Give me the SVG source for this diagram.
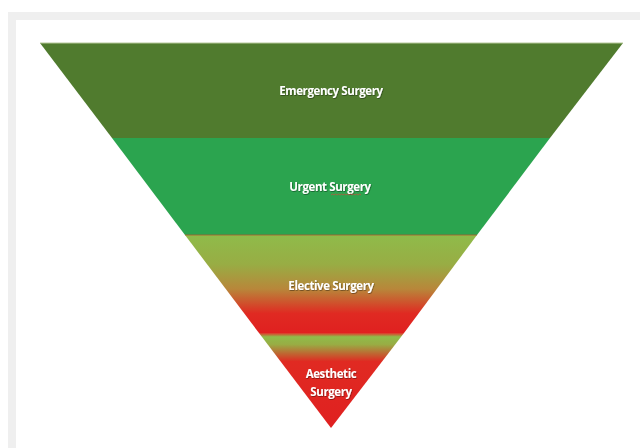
<svg xmlns="http://www.w3.org/2000/svg" width="640" height="448" viewBox="0 0 640 448">
  <defs>
    <linearGradient id="gElective" x1="0" y1="235" x2="0" y2="333" gradientUnits="userSpaceOnUse">
      <stop offset="0" stop-color="#8fbb4a"/>
      <stop offset="0.3" stop-color="#98ad44"/>
      <stop offset="0.55" stop-color="#b8873a"/>
      <stop offset="0.8" stop-color="#e02a22"/>
      <stop offset="1" stop-color="#e02020"/>
    </linearGradient>
    <linearGradient id="gAesthetic" x1="0" y1="333" x2="0" y2="428" gradientUnits="userSpaceOnUse">
      <stop offset="0" stop-color="#e4322a"/>
      <stop offset="0.04" stop-color="#8fbb4a"/>
      <stop offset="0.12" stop-color="#98ad44"/>
      <stop offset="0.3" stop-color="#e02a22"/>
      <stop offset="1" stop-color="#e02020"/>
    </linearGradient>
    <filter id="sh" x="-10%" y="-30%" width="120%" height="160%">
      <feDropShadow dx="0.6" dy="0.8" stdDeviation="0.4" flood-color="#000" flood-opacity="0.45"/>
    </filter>
  </defs>
  <style>
    .lbl { font-family: "Open Sans", "Liberation Sans", sans-serif; font-weight: 700; font-size: 11.5px; fill: #ffffff; text-anchor: middle; letter-spacing: -0.4px; filter: url(#sh); }
  </style>
  <rect x="0" y="0" width="640" height="448" fill="#ffffff"/>
  <rect x="8" y="12" width="640" height="448" fill="#efefef"/>
  <rect x="16" y="20" width="640" height="448" fill="#ffffff"/>

  <g id="emergency">
    <polygon points="40,43 623,43 550,138 112,138" fill="#507b2e"/>
    <line x1="40" y1="43" x2="623" y2="43" stroke="#b7c99a" stroke-width="1"/>
    <text class="lbl" x="331" y="95">Emergency Surgery</text>
  </g>
  <g id="urgent">
    <polygon points="112,138 550,138 477,235 185,235" fill="#2ba44f"/>
    <text class="lbl" x="330" y="191">Urgent Surgery</text>
    <path d="M331,195 l1.5,-1 l1.5,1 l1.5,-1 l1.5,1 l1.5,-1 l1.5,1 l1.5,-1 l1.5,1 l1.5,-1 l1.5,1 l1.5,-1 l1.5,1 l1.5,-1 l1.5,1 l1.5,-1 l1.5,1 l1.5,-1 l1.5,1 l1.5,-1 l1.5,1" fill="none" stroke="#d04a3a" stroke-width="0.7"/>
  </g>
  <g id="elective">
    <polygon points="185,235 477,235 404,333 259,333" fill="url(#gElective)"/>
    <line x1="185" y1="235" x2="477" y2="235" stroke="#b0552e" stroke-width="0.8"/>
    <text class="lbl" x="331" y="290">Elective Surgery</text>
  </g>
  <g id="aesthetic">
    <polygon points="259,333 404,333 331,428" fill="url(#gAesthetic)"/>
    <text class="lbl" x="331" y="378">Aesthetic</text>
    <text class="lbl" x="331" y="396">Surgery</text>
  </g>
</svg>
